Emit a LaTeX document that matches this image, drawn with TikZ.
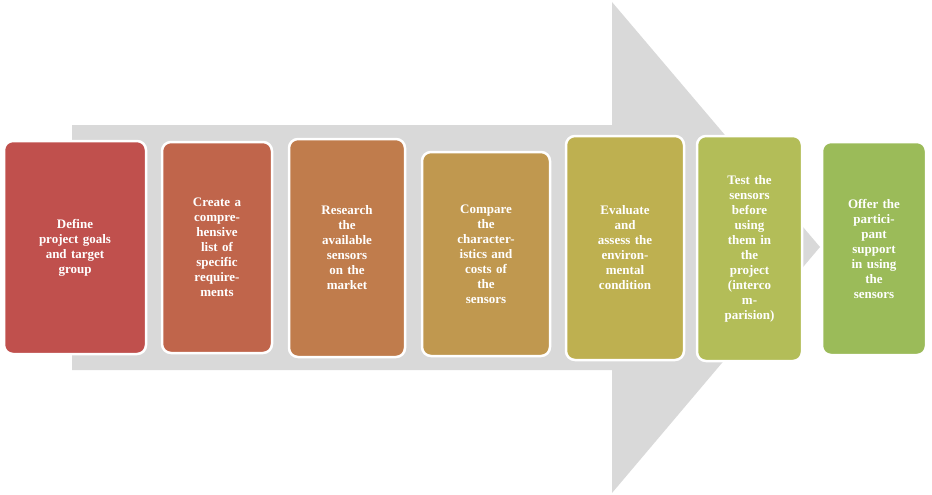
\documentclass[tikz,border=0pt]{standalone}
\usepackage{fontspec}
\setmainfont{Liberation Serif}
\usetikzlibrary{positioning}
\definecolor{arrowgray}{HTML}{D9D9D9}
\definecolor{stepA}{HTML}{C0504D}
\definecolor{stepB}{HTML}{C0654B}
\definecolor{stepC}{HTML}{C07C4C}
\definecolor{stepD}{HTML}{C0984F}
\definecolor{stepE}{HTML}{BEB050}
\definecolor{stepF}{HTML}{B3BD58}
\definecolor{stepG}{HTML}{9BBB59}
\tikzset{
  stepbox/.style={draw=white,line width=2.5pt,rounded corners=9pt,
    text=white,font=\bfseries\fontsize{13}{15}\selectfont,align=center,inner sep=2pt},
}
\begin{document}
\begin{tikzpicture}[x=1pt,y=-1pt]
\useasboundingbox (0,0) rectangle (932,495);
% big arrow
\fill[arrowgray] (72,125) -- (612,125) -- (612,2) -- (820,247) -- (612,493) -- (612,370) -- (72,370) -- cycle;
% steps
\node[stepbox,fill=stepA,minimum width=142pt,minimum height=213pt,text width=130pt] (s1) at (75,247.5) {Define\\project goals\\and target\\group};
\node[stepbox,fill=stepB,minimum width=110pt,minimum height=211pt,text width=100pt] (s2) at (217,247.5) {Create a\\compre-\\hensive\\list of\\specific\\require-\\ments};
\node[stepbox,fill=stepC,minimum width=116pt,minimum height=218pt,text width=106pt] (s3) at (347,248) {Research\\the\\available\\sensors\\on the\\market};
\node[stepbox,fill=stepD,minimum width=128pt,minimum height=204pt,text width=118pt] (s4) at (486,254) {Compare\\the\\character-\\istics and\\costs of\\the\\sensors};
\node[stepbox,fill=stepE,minimum width=118pt,minimum height=224pt,text width=108pt] (s5) at (625,248) {Evaluate\\and\\assess the\\environ-\\mental\\condition};
\node[stepbox,fill=stepF,minimum width=105pt,minimum height=225pt,text width=98pt] (s6) at (749.5,248.5) {Test the\\sensors\\before\\using\\them in\\the\\project\\(interco\\m-\\parision)};
\node[stepbox,fill=stepG,minimum width=104pt,minimum height=213pt,text width=96pt] (s7) at (874,248.5) {Offer the\\partici-\\pant\\support\\in using\\the\\sensors};
\end{tikzpicture}
\end{document}
